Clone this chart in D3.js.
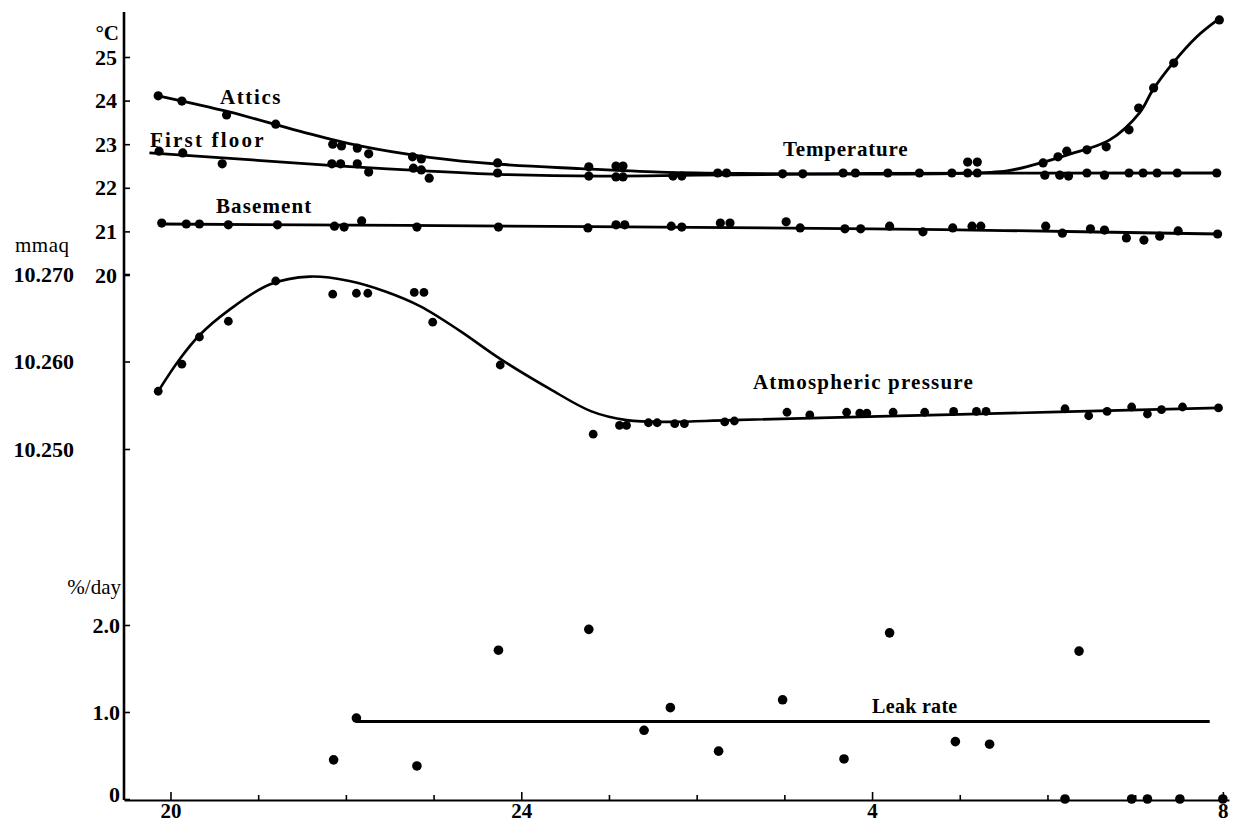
<!DOCTYPE html>
<html>
<head>
<meta charset="utf-8">
<script src="https://cdn.jsdelivr.net/npm/d3@7"></script>
<style>
  body { margin: 0; background: #fff; }
  text { font-family: "Liberation Serif", "DejaVu Serif", serif; fill: #000; }
</style>
</head>
<body>
<div id="chart"></div>
<script>
// hours run past midnight: 24 = 0h, 28 = 4h, 32 = 8h
const hourTicks = d3.range(20, 33);
const labelHours = [20, 24, 28, 32];
const hourLabels = ["20", "24", "4", "8"];
const tempTicks = [20, 21, 22, 23, 24, 25];
const presTicks = [10.25, 10.26, 10.27];
const leakTicks = [0, 1, 2];

// measured temperatures [hour, °C]
const atticsPoints = [
  [19.86, 24.11], [20.13, 23.99], [20.64, 23.67], [21.20, 23.46], [21.85, 23.00],
  [21.95, 22.96], [22.13, 22.91], [22.26, 22.78], [22.76, 22.71], [22.86, 22.66],
  [23.73, 22.57], [24.77, 22.48], [25.08, 22.50], [25.16, 22.50], [29.09, 22.59],
  [29.20, 22.59], [29.95, 22.57], [30.12, 22.71], [30.22, 22.84], [30.45, 22.87],
  [30.67, 22.94], [30.93, 23.33], [31.04, 23.83], [31.21, 24.29], [31.44, 24.86],
  [31.96, 25.85]
];
const floorPoints = [
  [19.87, 22.84], [20.14, 22.80], [20.59, 22.55], [21.84, 22.55], [21.94, 22.55],
  [22.13, 22.55], [22.26, 22.36], [22.77, 22.45], [22.86, 22.41], [22.95, 22.22],
  [23.73, 22.34], [24.77, 22.27], [25.08, 22.25], [25.16, 22.25], [25.73, 22.27],
  [25.83, 22.27], [26.24, 22.34], [26.34, 22.34], [26.98, 22.32], [27.21, 22.32],
  [27.67, 22.34], [27.81, 22.34], [28.18, 22.34], [28.54, 22.34], [28.91, 22.34],
  [29.09, 22.34], [29.20, 22.34], [29.97, 22.29], [30.14, 22.29], [30.24, 22.27],
  [30.45, 22.34], [30.65, 22.29], [30.93, 22.34], [31.09, 22.34], [31.25, 22.34],
  [31.48, 22.34], [31.93, 22.34]
];
const basementPoints = [
  [19.90, 21.19], [20.18, 21.17], [20.33, 21.17], [20.66, 21.15], [21.22, 21.15],
  [21.87, 21.12], [21.98, 21.10], [22.18, 21.24], [22.81, 21.10], [23.74, 21.10],
  [24.76, 21.08], [25.08, 21.15], [25.18, 21.15], [25.71, 21.12], [25.83, 21.10],
  [26.27, 21.19], [26.38, 21.19], [27.02, 21.22], [27.18, 21.08], [27.69, 21.06],
  [27.87, 21.06], [28.20, 21.12], [28.58, 20.99], [28.92, 21.08], [29.14, 21.12],
  [29.24, 21.12], [29.98, 21.12], [30.17, 20.96], [30.49, 21.06], [30.65, 21.03],
  [30.90, 20.85], [31.10, 20.80], [31.28, 20.89], [31.49, 21.01], [31.94, 20.94]
];

// fitted curves [hour, °C]
const atticsCurve = [
  [19.86, 24.11], [20.67, 23.74], [21.47, 23.30], [22.16, 22.96], [22.95, 22.70],
  [23.75, 22.54], [24.67, 22.44], [25.58, 22.36], [26.50, 22.33], [29.00, 22.33],
  [29.54, 22.39], [29.83, 22.52], [30.22, 22.75], [30.71, 23.10], [31.05, 23.72],
  [31.20, 24.24], [31.43, 24.86], [31.70, 25.46], [31.94, 25.85]
];
const floorCurve = [
  [19.76, 22.80], [20.72, 22.67], [21.86, 22.51], [22.80, 22.40], [23.75, 22.31],
  [24.90, 22.27], [26.00, 22.29], [28.00, 22.33], [31.97, 22.34]
];
const basementCurve = [
  [19.90, 21.17], [24.80, 21.11], [28.00, 21.06], [29.50, 21.02], [31.94, 20.94]
];

// atmospheric pressure [hour, mmaq]
const pressurePoints = [
  [19.86, 10.2566], [20.13, 10.2597], [20.33, 10.2628], [20.66, 10.2646], [21.20, 10.2692],
  [21.85, 10.2677], [22.12, 10.2678], [22.25, 10.2678], [22.78, 10.2679], [22.89, 10.2679],
  [22.99, 10.2645], [23.76, 10.2596], [24.82, 10.2517], [25.12, 10.2527], [25.20, 10.2527],
  [25.45, 10.2530], [25.55, 10.2530], [25.75, 10.2529], [25.86, 10.2529], [26.32, 10.2531],
  [26.43, 10.2532], [27.03, 10.2542], [27.29, 10.2539], [27.71, 10.2542], [27.86, 10.2541],
  [27.94, 10.2541], [28.24, 10.2542], [28.60, 10.2542], [28.93, 10.2543], [29.19, 10.2543],
  [29.30, 10.2543], [30.20, 10.2546], [30.47, 10.2538], [30.68, 10.2543], [30.96, 10.2548],
  [31.14, 10.2540], [31.30, 10.2545], [31.54, 10.2548], [31.95, 10.2547]
];
const pressureCurve = [
  [19.86, 10.2566], [20.10, 10.2602], [20.33, 10.2630], [20.67, 10.2659], [21.13, 10.2688],
  [21.59, 10.2697], [22.04, 10.2692], [22.45, 10.2680], [22.85, 10.2663], [23.30, 10.2635],
  [23.76, 10.2603], [24.32, 10.2569], [24.80, 10.2543], [25.20, 10.2533], [25.70, 10.2531],
  [26.40, 10.2533], [28.78, 10.2539], [31.95, 10.2547]
];

// leak rate [hour, %/day]
const leakPoints = [
  [21.86, 0.45], [22.12, 0.93], [22.81, 0.38], [23.74, 1.71], [24.77, 1.95],
  [25.40, 0.79], [25.70, 1.05], [26.25, 0.55], [26.98, 1.14], [27.68, 0.46],
  [28.20, 1.91], [28.95, 0.66], [29.34, 0.63], [30.36, 1.70], [30.20, 0],
  [30.96, 0], [31.14, 0], [31.51, 0], [32.00, 0]
];
const leakLine = [[22.12, 0.89], [31.85, 0.89]];

const width = 1233;
const height = 823;

const svg = d3.select("#chart")
  .append("svg")
  .attr("width", width)
  .attr("height", height);

const x = d3.scaleLinear().domain([19.47, 32.07]).range([124, 1229]);
const yTemp = d3.scaleLinear().domain([20, 25]).range([275, 57]);
const yPres = d3.scaleLinear().domain([10.25, 10.27]).range([449, 274]);
const yLeak = d3.scaleLinear().domain([0, 2]).range([799, 625]);

function styleAxis(g) {
  g.selectAll("text")
    .attr("font-family", "Liberation Serif, serif")
    .attr("font-size", 22)
    .attr("font-weight", "bold")
    .attr("fill", "#000");
  g.selectAll("line").attr("stroke", "#000").attr("stroke-width", 1.6);
}

// x axis
const xAxis = svg.append("g")
  .attr("transform", "translate(0,800)")
  .call(d3.axisBottom(x)
    .tickValues(hourTicks)
    .tickSizeInner(-5)
    .tickSizeOuter(0)
    .tickPadding(3)
    .tickFormat(h => labelHours.includes(h) ? hourLabels[labelHours.indexOf(h)] : ""));
xAxis.select(".domain").attr("stroke", "#000").attr("stroke-width", 2.2);
xAxis.selectAll(".tick")
  .filter(h => labelHours.includes(h))
  .select("line")
  .attr("y2", -8);
styleAxis(xAxis);
xAxis.selectAll("text").attr("font-size", 21);

// one shared vertical axis line
svg.append("line")
  .attr("x1", 124).attr("x2", 124)
  .attr("y1", 12).attr("y2", 800)
  .attr("stroke", "#000")
  .attr("stroke-width", 2.6);

const tAxis = svg.append("g")
  .attr("transform", "translate(124,0)")
  .call(d3.axisLeft(yTemp).tickValues(tempTicks).tickFormat(d3.format("d")).tickSize(-6).tickPadding(7));
tAxis.select(".domain").remove();
styleAxis(tAxis);

const pAxis = svg.append("g")
  .attr("transform", "translate(124,0)")
  .call(d3.axisLeft(yPres).tickValues(presTicks).tickFormat(d3.format(".3f")).tickSize(-6).tickPadding(50));
pAxis.select(".domain").remove();
styleAxis(pAxis);

const lAxis = svg.append("g")
  .attr("transform", "translate(124,0)")
  .call(d3.axisLeft(yLeak).tickValues(leakTicks)
    .tickFormat(d => d === 0 ? "0" : d.toFixed(1)).tickSize(-6).tickPadding(4));
lAxis.select(".domain").remove();
styleAxis(lAxis);
lAxis.selectAll(".tick text").filter(d => d === 0).attr("dy", "0.1em");

// unit labels
svg.append("text").attr("x", 119).attr("y", 40).attr("text-anchor", "end")
  .attr("font-size", 21).attr("font-weight", "bold").text("°C");
svg.append("text").attr("x", 15).attr("y", 252)
  .attr("font-size", 21).attr("letter-spacing", 0.5).text("mmaq");
svg.append("text").attr("x", 121).attr("y", 594).attr("text-anchor", "end")
  .attr("font-size", 21).text("%/day");

// curves
const smooth = d3.curveCatmullRom.alpha(0.5);
const tempLine = d3.line().x(d => x(d[0])).y(d => yTemp(d[1])).curve(smooth);
const presLine = d3.line().x(d => x(d[0])).y(d => yPres(d[1])).curve(smooth);
const rateLine = d3.line().x(d => x(d[0])).y(d => yLeak(d[1]));

[atticsCurve, floorCurve, basementCurve].forEach(c => {
  svg.append("path")
    .attr("d", tempLine(c))
    .attr("fill", "none")
    .attr("stroke", "#000")
    .attr("stroke-width", 2.8);
});

svg.append("path")
  .attr("d", presLine(pressureCurve))
  .attr("fill", "none")
  .attr("stroke", "#000")
  .attr("stroke-width", 2.6);

svg.append("path")
  .attr("d", rateLine(leakLine))
  .attr("fill", "none")
  .attr("stroke", "#000")
  .attr("stroke-width", 3);

// points
function dots(data, yScale, r) {
  svg.append("g")
    .selectAll("circle")
    .data(data)
    .enter()
    .append("circle")
    .attr("cx", d => x(d[0]))
    .attr("cy", d => yScale(d[1]))
    .attr("r", r)
    .attr("fill", "#000");
}

dots(atticsPoints, yTemp, 4.6);
dots(floorPoints, yTemp, 4.6);
dots(basementPoints, yTemp, 4.6);
dots(pressurePoints, yPres, 4.4);
dots(leakPoints, yLeak, 4.8);

// series labels
const labels = [
  { text: "Attics", h: 20.565, y: yTemp(23.92), size: 21, ls: 1.6 },
  { text: "First floor", h: 19.766, y: yTemp(22.94), size: 21, ls: 2.2 },
  { text: "Basement", h: 20.519, y: yTemp(21.42), size: 21, ls: 1.1 },
  { text: "Temperature", h: 26.984, y: yTemp(22.72), size: 21, ls: 0.8 },
  { text: "Atmospheric pressure", h: 26.642, y: yPres(10.25686), size: 21, ls: 1.2 },
  { text: "Leak rate", h: 28.0, y: yLeak(0.99), size: 20, ls: 0.3 }
];

svg.append("g")
  .selectAll("text")
  .data(labels)
  .enter()
  .append("text")
  .attr("x", d => x(d.h))
  .attr("y", d => d.y)
  .attr("font-size", d => d.size)
  .attr("font-weight", "bold")
  .attr("letter-spacing", d => d.ls)
  .text(d => d.text);
</script>
</body>
</html>
